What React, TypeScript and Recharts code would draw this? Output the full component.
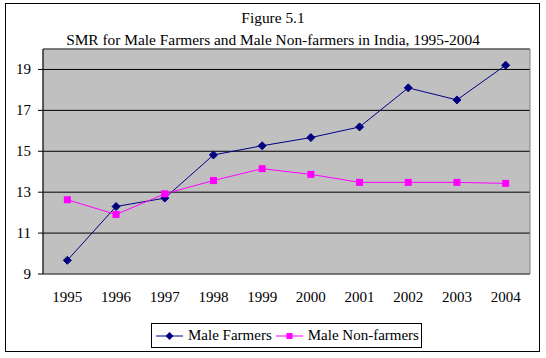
import React from "react";
import {
  CartesianGrid,
  Legend,
  Line,
  LineChart,
  ReferenceArea,
  XAxis,
  YAxis,
} from "recharts";

const years = ["1995", "1996", "1997", "1998", "1999", "2000", "2001", "2002", "2003", "2004"];
const maleFarmers = [9.67, 12.3, 12.71, 14.82, 15.27, 15.67, 16.19, 18.1, 17.51, 19.21];
const maleNonFarmers = [12.63, 11.91, 12.92, 13.57, 14.15, 13.87, 13.48, 13.48, 13.48, 13.43];
const yTicks = [9, 11, 13, 15, 17, 19];
const seriesNames = ["Male Farmers", "Male Non-farmers"];

const data = years.map((year, i) => ({
  pos: i + 0.5,
  year,
  farmers: maleFarmers[i],
  nonFarmers: maleNonFarmers[i],
}));

const boundaryTicks = years.map((_, i) => i).concat(years.length);
const labelTicks = data.map((d) => d.pos);

const FONT = "Liberation Serif";
const NAVY = "#000080";
const MAGENTA = "#FF00FF";

const Diamond = (props: any) => {
  const { cx, cy } = props;
  if (cx == null || cy == null) return null;
  const r = 4;
  return (
    <polygon
      points={`${cx},${cy - r} ${cx + r},${cy} ${cx},${cy + r} ${cx - r},${cy}`}
      fill={NAVY}
      stroke={NAVY}
    />
  );
};

const Square = (props: any) => {
  const { cx, cy } = props;
  if (cx == null || cy == null) return null;
  return <rect x={cx - 3.5} y={cy - 3.5} width={7} height={7} fill={MAGENTA} />;
};

const YearTick = (props: any) => {
  const { x, y, payload } = props;
  return (
    <text x={x} y={y + 16} textAnchor="middle" fill="#000" style={{ fontFamily: FONT, fontSize: 15 }}>
      {years[Math.floor(payload.value)]}
    </text>
  );
};

const ValueTick = (props: any) => {
  const { x, y, payload } = props;
  return (
    <text x={x} y={y + 5} textAnchor="end" fill="#000" style={{ fontFamily: FONT, fontSize: 15 }}>
      {payload.value}
    </text>
  );
};

const legendText: React.CSSProperties = {
  fontFamily: FONT,
  fontSize: 15,
  whiteSpace: "nowrap",
  flexShrink: 0,
};

const LegendBox = () => (
  <div
    style={{
      border: "1px solid #000",
      height: 23,
      width: 269,
      display: "flex",
      alignItems: "center",
      background: "#fff",
      boxSizing: "content-box",
    }}
  >
    <svg width={28} height={12} style={{ marginLeft: 4, flexShrink: 0 }}>
      <line x1={0} x2={27} y1={6} y2={6} stroke={NAVY} />
      <polygon points="13.5,2 17.5,6 13.5,10 9.5,6" fill={NAVY} />
    </svg>
    <span style={{ ...legendText, marginLeft: 4 }}>{seriesNames[0]}</span>
    <svg width={28} height={12} style={{ marginLeft: 4, flexShrink: 0 }}>
      <line x1={0} x2={27} y1={6} y2={6} stroke={MAGENTA} />
      <rect x={10.5} y={3} width={6} height={6} fill={MAGENTA} />
    </svg>
    <span style={{ ...legendText, marginLeft: 4 }}>{seriesNames[1]}</span>
  </div>
);

export default function App() {
  return (
    <div style={{ position: "absolute", left: 0, top: 0, width: 546, height: 358, background: "#fff" }}>
      <div
        style={{
          position: "absolute",
          left: 5,
          top: 3,
          width: 533,
          height: 347,
          border: "1px solid #000",
        }}
      />
      <div
        style={{
          position: "absolute",
          left: 0,
          top: 7,
          width: 546,
          textAlign: "center",
          fontFamily: FONT,
          fontSize: 15.4,
          lineHeight: "22px",
        }}
      >
        <div>Figure 5.1</div>
        <div>SMR for Male Farmers and Male Non-farmers in India, 1995-2004</div>
      </div>
      <div style={{ position: "absolute", left: 0, top: 0 }}>
        <LineChart
          width={546}
          height={358}
          data={data}
          margin={{ top: 49, right: 16, left: 0, bottom: 0 }}
        >
          <CartesianGrid
            xAxisId="ticks"
            vertical={false}
            stroke="#000"
            fill="#C0C0C0"
            fillOpacity={1}
          />
          <ReferenceArea
            xAxisId="ticks"
            x1={0}
            x2={10}
            y1={9}
            y2={20}
            fill="none"
            stroke="#808080"
            strokeWidth={1}
          />
          <XAxis
            xAxisId="ticks"
            type="number"
            dataKey="pos"
            domain={[0, 10]}
            ticks={boundaryTicks}
            height={0}
            stroke="#000"
            tickSize={5}
            tickFormatter={() => ""}
          />
          <XAxis
            xAxisId="labels"
            type="number"
            dataKey="pos"
            domain={[0, 10]}
            ticks={labelTicks}
            height={84}
            axisLine={false}
            tickLine={false}
            tickMargin={6}
            interval={0}
            tick={<YearTick />}
          />
          <YAxis
            domain={[9, 20]}
            ticks={yTicks}
            width={43}
            stroke="#000"
            tickSize={5}
            tickMargin={7}
            interval={0}
            allowDataOverflow
            tick={<ValueTick />}
          />
          <Line
            xAxisId="ticks"
            dataKey="farmers"
            name={seriesNames[0]}
            stroke={NAVY}
            strokeWidth={1}
            dot={<Diamond />}
            activeDot={false}
            isAnimationActive={false}
          />
          <Line
            xAxisId="ticks"
            dataKey="nonFarmers"
            name={seriesNames[1]}
            stroke={MAGENTA}
            strokeWidth={1}
            dot={<Square />}
            activeDot={false}
            isAnimationActive={false}
          />
          <Legend
            layout="horizontal"
            align="center"
            verticalAlign="middle"
            content={() => <LegendBox />}
            wrapperStyle={{ position: "absolute", left: 151, top: 323, width: 271 }}
          />
        </LineChart>
      </div>
    </div>
  );
}
